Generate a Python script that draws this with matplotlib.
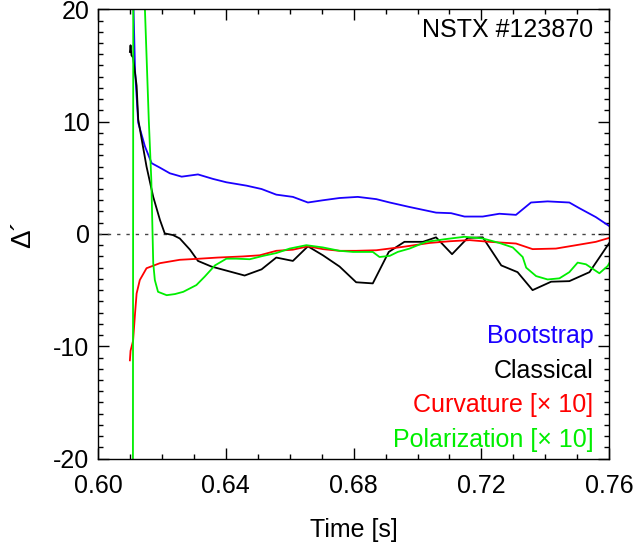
import matplotlib
matplotlib.use('Agg')
import matplotlib.pyplot as plt

plt.rcParams['font.family'] = ['Liberation Sans', 'DejaVu Sans']

# Delta' contributions vs time, NSTX shot 123870
t_boot = [0.6108, 0.6116, 0.6126, 0.6147, 0.6168, 0.6194, 0.6225, 0.6262, 0.6313,
          0.6360, 0.6402, 0.6465, 0.6512, 0.6558, 0.6610, 0.6657, 0.6704, 0.6756,
          0.6813, 0.6871, 0.6913, 0.6975, 0.7058, 0.7105, 0.7147, 0.7204, 0.7256,
          0.7308, 0.7355, 0.7407, 0.7475, 0.7506, 0.7558, 0.7600]
bootstrap = [24.0, 14.6, 9.9, 7.8, 6.3, 5.9, 5.4, 5.1, 5.3,
             4.9, 4.6, 4.3, 4.0, 3.5, 3.3, 2.8, 3.0, 3.2,
             3.3, 3.1, 2.8, 2.4, 1.9, 1.85, 1.55, 1.55, 1.8,
             1.7, 2.8, 2.9, 2.8, 2.3, 1.5, 0.7]

t_class = [0.6100, 0.6102, 0.6105, 0.6110, 0.6121, 0.6126, 0.6137, 0.6152, 0.6173,
           0.6194, 0.6209, 0.6235, 0.6256, 0.6288, 0.6313, 0.6355, 0.6407, 0.6459,
           0.6512, 0.6558, 0.6610, 0.6657, 0.6704, 0.6756, 0.6808, 0.6860, 0.6910,
           0.6959, 0.7017, 0.7058, 0.7108, 0.7157, 0.7204, 0.7262, 0.7313, 0.7360,
           0.7418, 0.7475, 0.7538, 0.7600]
classical = [16.2, 16.8, 15.9, 15.7, 13.2, 10.2, 8.4, 6.0, 3.3,
             1.25, 0.05, -0.1, -0.4, -1.4, -2.4, -2.9, -3.3, -3.7,
             -3.15, -2.1, -2.4, -1.1, -1.9, -2.9, -4.3, -4.4, -1.6,
             -0.7, -0.7, -0.3, -1.8, -0.35, -0.3, -2.8, -3.4, -5.0,
             -4.25, -4.2, -3.4, -0.8]

t_curv = [0.6100, 0.6102, 0.6110, 0.6116, 0.6121, 0.6131, 0.6152, 0.6194, 0.6256,
          0.6319, 0.6375, 0.6454, 0.6506, 0.6558, 0.6610, 0.6657, 0.6704, 0.6756,
          0.6808, 0.6871, 0.6954, 0.7038, 0.7100, 0.7163, 0.7225, 0.7308, 0.7360,
          0.7433, 0.7496, 0.7558, 0.7600]
curvature = [-11.25, -10.4, -9.5, -7.1, -5.3, -4.1, -3.05, -2.6, -2.3,
             -2.2, -2.1, -2.0, -1.9, -1.5, -1.4, -1.1, -1.35, -1.5,
             -1.5, -1.45, -1.15, -0.8, -0.65, -0.55, -0.7, -0.85, -1.35,
             -1.3, -1.0, -0.7, -0.35]

t_pol = [0.6109, 0.6111, 0.6140, 0.6147, 0.6159, 0.6167, 0.6173, 0.6178, 0.6188,
         0.6215, 0.6241, 0.6267, 0.6308, 0.6334, 0.6366, 0.6402, 0.6433, 0.6475,
         0.6517, 0.6558, 0.6600, 0.6652, 0.6704, 0.6756, 0.6798, 0.6860, 0.6881,
         0.6913, 0.6938, 0.6975, 0.7027, 0.7090, 0.7147, 0.7204, 0.7256, 0.7298,
         0.7329, 0.7340, 0.7371, 0.7407, 0.7444, 0.7475, 0.7501, 0.7527, 0.7569,
         0.7595, 0.7600]
polarization = [-40.0, 40.0, 28.0, 20.0, 10.2, 4.8, -2.6, -4.1, -5.15,
                -5.45, -5.35, -5.15, -4.55, -3.8, -2.8, -2.2, -2.2, -2.25,
                -1.95, -1.7, -1.3, -1.0, -1.2, -1.5, -1.6, -1.6, -2.05,
                -1.95, -1.6, -1.3, -0.7, -0.45, -0.25, -0.4, -0.8, -1.2,
                -2.05, -3.0, -3.75, -4.05, -3.95, -3.4, -2.55, -2.7, -3.5,
                -2.85, -2.6]

labels = ['Bootstrap', 'Classical', 'Curvature [\u00d7 10]', 'Polarization [\u00d7 10]']
colors = ['#1a00ff', 'black', '#ff0000', '#00ee00']

fig = plt.figure(figsize=(6.36, 5.46), dpi=100)
ax = fig.add_axes([0.154, 0.160, 0.804, 0.823])

ax.axhline(0, color='#444444', lw=1.0, ls=(0, (2.4, 4.3)))
ax.plot(t_boot, bootstrap, color=colors[0], lw=1.3)
ax.plot(t_class, classical, color=colors[1], lw=1.3)
ax.plot(t_curv, curvature, color=colors[2], lw=1.3)
ax.plot(t_pol, polarization, color=colors[3], lw=1.3)

ax.set_xlim(0.60, 0.76)
ax.set_ylim(-20, 20)
ax.set_xticks([0.60, 0.64, 0.68, 0.72, 0.76])
ax.set_xticklabels(['0.60', '0.64', '0.68', '0.72', '0.76'])
ax.set_yticks([-20, -10, 0, 10, 20])
ax.set_yticklabels(['-20', '-10', '0', '10', '20'])
ax.set_xticks([x / 100 for x in range(60, 77)], minor=True)
ax.set_yticks(range(-20, 21), minor=True)
ax.tick_params(which='both', direction='in', top=True, right=True, labelsize=18)
ax.tick_params(which='major', length=7.7, width=1.0)
ax.tick_params(which='minor', length=3.6, width=1.0)
ax.tick_params(axis='x', pad=11)
ax.tick_params(axis='y', pad=6)
for s in ax.spines.values():
    s.set_linewidth(1.0)

ax.text(0.969, 0.938, 'NSTX #123870', transform=ax.transAxes,
        ha='right', va='baseline', fontsize=18)
ys = [0.2565, 0.180, 0.104, 0.026]
for lab, c, y in zip(labels, colors, ys):
    ax.text(0.969, y, lab, transform=ax.transAxes, ha='right', va='baseline',
            fontsize=18, color=c)

fig.text(354 / 636, 1 - 537 / 546, 'Time [s]', ha='center', va='baseline', fontsize=18)
fig.text(23 / 636, 1 - 234 / 546, '\u0394\u00b4', ha='center', va='center',
         rotation=90, fontsize=20)

fig.savefig('out.png', dpi=100)
